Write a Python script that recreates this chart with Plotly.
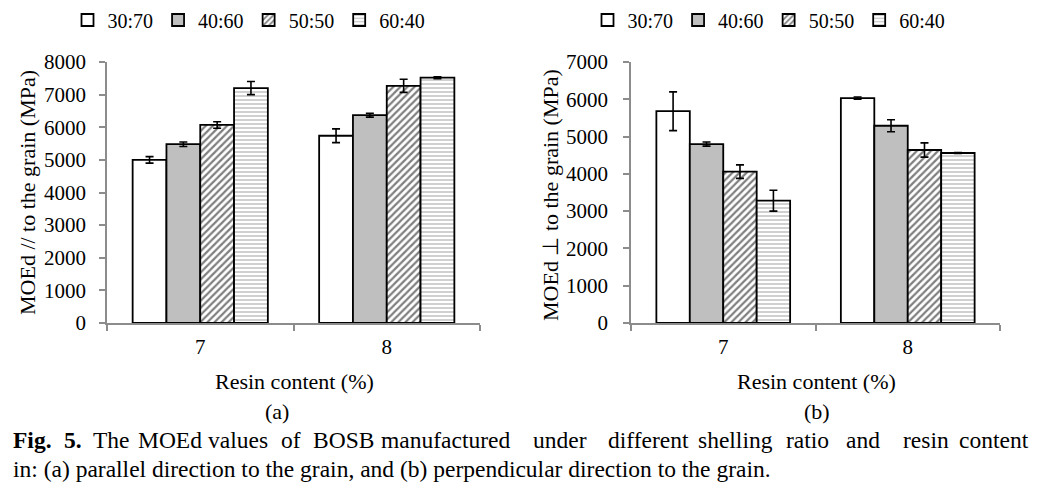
import plotly.graph_objects as go

categories = ["7", "8"]
series_names = ["30:70", "40:60", "50:50", "60:40"]

# Panel (a): MOEd parallel to the grain
par_vals = {
    "30:70": [5000, 5740],
    "40:60": [5480, 6370],
    "50:50": [6070, 7270],
    "60:40": [7200, 7520],
}
par_errs = {
    "30:70": [100, 210],
    "40:60": [70, 60],
    "50:50": [100, 200],
    "60:40": [200, 30],
}

# Panel (b): MOEd perpendicular to the grain
perp_vals = {
    "30:70": [5680, 6030],
    "40:60": [4800, 5290],
    "50:50": [4060, 4640],
    "60:40": [3280, 4560],
}
perp_errs = {
    "30:70": [520, 30],
    "40:60": [55, 160],
    "50:50": [180, 190],
    "60:40": [280, 10],
}

caption_line1_words = ["<b>Fig.</b>", "<b>5.</b>", "The", "MOEd", "values", "of", "BOSB", "manufactured",
                       "under", "different", "shelling", "ratio", "and", "resin", "content"]
caption_line1_x = [12, 63, 92, 137, 207, 280, 312, 380, 532, 607, 697, 785, 845, 902, 958]
caption_line2 = "in: (a) parallel direction to the grain, and (b) perpendicular direction to the grain."

FONT = "Liberation Serif"
W, H = 1037, 495
OFF = 8  # page body margin

styles = {
    "30:70": dict(color="white"),
    "40:60": dict(color="#BFBFBF"),
    "50:50": dict(color="white", pattern=dict(shape="/", fgcolor="black", bgcolor="white", size=5, solidity=0.45)),
    "60:40": dict(color="white", pattern=dict(shape="-", fgcolor="#444444", bgcolor="white", size=4, solidity=0.25)),
}

fig = go.Figure()

for vals, errs, xa, ya, lg in [
    (par_vals, par_errs, "x", "y", "legend"),
    (perp_vals, perp_errs, "x2", "y2", "legend2"),
]:
    for name in series_names:
        st = styles[name]
        marker = dict(color=st["color"], line=dict(color="black", width=1.8))
        if "pattern" in st:
            marker["pattern"] = st["pattern"]
        fig.add_trace(go.Bar(
            x=categories, y=vals[name], name=name,
            marker=marker,
            error_y=dict(type="data", array=errs[name], color="black", thickness=1.6, width=4),
            xaxis=xa, yaxis=ya, legend=lg,
        ))

def px_x(p):
    return (p - OFF) / W

def px_y(p):
    return 1 - (p - OFF) / H

axis_common = dict(
    showgrid=False, zeroline=False, showline=True, linecolor="#8c8c8c", linewidth=1.5,
    ticks="outside", tickcolor="#8c8c8c", tickwidth=1.5,
    tickfont=dict(family=FONT, size=21, color="black"),
    automargin=False,
)

fig.update_layout(
    width=W, height=H,
    margin=dict(l=0, r=0, t=0, b=0, autoexpand=False),
    paper_bgcolor="white", plot_bgcolor="white",
    barmode="group", bargap=0.275, bargroupgap=0,
    font=dict(family=FONT, size=21, color="black"),
    xaxis=dict(domain=[px_x(107), px_x(480)], anchor="y", type="category",
               tickson="boundaries", ticklen=6, ticklabelstandoff=4, **axis_common),
    yaxis=dict(domain=[px_y(323), px_y(62)], anchor="x", range=[0, 8000], dtick=1000,
               ticklen=6, ticklabelstandoff=9, **axis_common),
    xaxis2=dict(domain=[px_x(631), px_x(1000)], anchor="y2", type="category",
                tickson="boundaries", ticklen=6, ticklabelstandoff=4, **axis_common),
    yaxis2=dict(domain=[px_y(323), px_y(62)], anchor="x2", range=[0, 7000], dtick=1000,
                ticklen=6, ticklabelstandoff=11, **axis_common),
    legend=dict(orientation="h", x=px_x(249), xanchor="center", y=px_y(20), yanchor="middle",
                font=dict(family=FONT, size=20), itemwidth=30, tracegroupgap=0,
                bgcolor="rgba(0,0,0,0)"),
    legend2=dict(orientation="h", x=px_x(769), xanchor="center", y=px_y(20), yanchor="middle",
                 font=dict(family=FONT, size=20), itemwidth=30, tracegroupgap=0,
                 bgcolor="rgba(0,0,0,0)"),
)

def note(text, x, y, size, xanchor="center", angle=0):
    return dict(text=text, x=px_x(x), y=px_y(y), xref="paper", yref="paper",
                xanchor=xanchor, yanchor="middle", textangle=angle, showarrow=False,
                borderpad=0, font=dict(family=FONT, size=size))

ann = [
    note("MOEd // to the grain (MPa)", 28, 193, 22, angle=-90),
    note("MOEd \u22a5 to the grain (MPa)", 550, 195, 22, angle=-90),
    note("Resin content (%)", 294, 381, 22),
    note("Resin content (%)", 816, 381, 22),
    note("(a)", 277, 411, 22),
    note("(b)", 817, 411, 22),
]
for word, wx in zip(caption_line1_words, caption_line1_x):
    ann.append(note(word, wx, 440, 23.5, xanchor="left"))
ann.append(note(caption_line2, 12, 469, 23.5, xanchor="left"))
fig.update_layout(annotations=ann)

fig.write_html("out.html")
